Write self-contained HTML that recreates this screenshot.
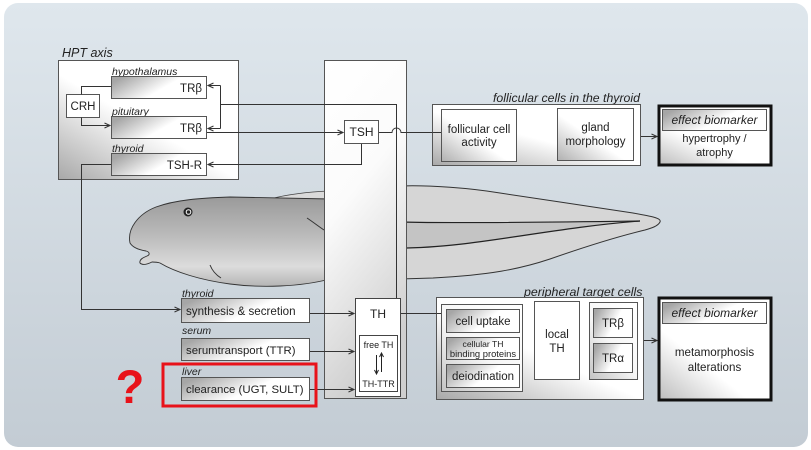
<!DOCTYPE html>
<html><head><meta charset="utf-8"><style>
html,body{margin:0;padding:0;background:#fff;}
svg{display:block;}
text{font-family:"Liberation Sans",Arial,sans-serif;fill:#222;}
.it{font-style:italic;}
</style></head><body>
<svg width="811" height="450" viewBox="0 0 811 450" xmlns="http://www.w3.org/2000/svg">
<defs>
<linearGradient id="bg" x1="0" y1="0" x2="0" y2="1"><stop offset="0" stop-color="#dfe7ed"/><stop offset="1" stop-color="#c3ccd4"/></linearGradient>
<linearGradient id="gBox" x1="0" y1="1" x2="0.8" y2="0.1"><stop offset="0" stop-color="#a8a8a8"/><stop offset="0.55" stop-color="#ffffff"/><stop offset="1" stop-color="#ffffff"/></linearGradient>
<linearGradient id="gBox2" x1="0" y1="1" x2="0.8" y2="0"><stop offset="0" stop-color="#c4c4c4"/><stop offset="0.5" stop-color="#f6f6f6"/><stop offset="1" stop-color="#ffffff"/></linearGradient>
<linearGradient id="gH" x1="0" y1="0.3" x2="1" y2="0.7"><stop offset="0" stop-color="#a6a6a6"/><stop offset="0.55" stop-color="#ffffff"/><stop offset="1" stop-color="#ffffff"/></linearGradient>
<linearGradient id="gF" x1="0" y1="1" x2="1" y2="0"><stop offset="0" stop-color="#b0b0b0"/><stop offset="0.45" stop-color="#ffffff"/><stop offset="1" stop-color="#ffffff"/></linearGradient>
<linearGradient id="gE" x1="0" y1="1" x2="0.7" y2="0.2"><stop offset="0" stop-color="#bdbdbd"/><stop offset="0.5" stop-color="#ffffff"/><stop offset="1" stop-color="#ffffff"/></linearGradient>
<linearGradient id="gCol" x1="0" y1="0" x2="0.3" y2="1"><stop offset="0" stop-color="#ffffff"/><stop offset="0.45" stop-color="#fbfbfb"/><stop offset="1" stop-color="#cfcfcf"/></linearGradient>
<linearGradient id="gBody" x1="0" y1="0" x2="0" y2="1"><stop offset="0" stop-color="#9a9a9a"/><stop offset="0.45" stop-color="#bcbcbc"/><stop offset="0.78" stop-color="#dcdcdc"/><stop offset="1" stop-color="#b4b4b4"/></linearGradient>
<marker id="a" markerWidth="8" markerHeight="8" refX="7" refY="4" orient="auto" markerUnits="userSpaceOnUse"><path d="M1.5,1.5 L7,4 L1.5,6.5" fill="none" stroke="#333" stroke-width="1"/></marker>
<marker id="s" markerWidth="6" markerHeight="6" refX="5" refY="3" orient="auto" markerUnits="userSpaceOnUse"><path d="M1,1 L5,3 L1,5" fill="none" stroke="#222" stroke-width="1"/></marker>
</defs>
<rect width="811" height="450" fill="#fff"/>
<rect x="4" y="3" width="804" height="444" rx="14" fill="url(#bg)"/>

<!-- tadpole -->
<path d="M270,199 C285,195 305,192 330,191 L330,206 C310,203 290,200 270,199 Z" fill="#dadada" stroke="#444" stroke-width="0.7"/>
<path d="M130,243 C127,229 138,214 156,207 C175,200 200,198 230,197 L330,199 L330,279 C300,287 260,288 230,284 C200,280 175,272 160,263 C157,262 155,262 152,262 C148,264 143,266 140,263 C139,260 142,258 147,256 C150,255 150,252 146,251 C140,250 133,248 130,243 Z" fill="url(#gBody)" stroke="#333" stroke-width="0.9"/>
<path d="M307,218 C313,222 318,226 324,230" fill="none" stroke="#333" stroke-width="1"/>
<path d="M210,265 C212,270 216,275 221,278" fill="none" stroke="#333" stroke-width="1"/>
<circle cx="188" cy="212" r="4.5" fill="#222"/>
<circle cx="188.5" cy="212" r="2.3" fill="none" stroke="#fff" stroke-width="1"/>
<path d="M400,186 C430,185 470,188 500,193 C540,199 600,208 633,213 C650,216 662,218 660,222 C658,226 652,228 645,230 C620,236 590,245 550,259 C520,269 490,275 433,278 L400,279 Z" fill="#d6d6d6" stroke="#333" stroke-width="1"/>
<path d="M400,222 C440,223 500,223 640,221 C600,224 560,230 520,236 C480,242 440,248 400,248 Z" fill="#c4c4c4"/>
<path d="M400,222 C440,223 500,223 640,221" fill="none" stroke="#222" stroke-width="1.2"/>
<path d="M400,248 C440,248 480,242 520,236 C560,230 600,224 640,221" fill="none" stroke="#222" stroke-width="1.2"/>

<!-- central column -->
<rect x="324.5" y="60.5" width="82" height="338" fill="url(#gCol)" stroke="#555"/>

<!-- HPT axis -->
<text x="62" y="57" class="it" font-size="12.5">HPT axis</text>
<rect x="58.5" y="60.5" width="180" height="119" fill="url(#gBox)" stroke="#555"/>
<text x="112" y="75" class="it" font-size="10.5">hypothalamus</text>
<rect x="111.5" y="76.5" width="95" height="22" fill="url(#gH)" stroke="#555"/>
<text x="202" y="92" text-anchor="end" font-size="11.5">TRβ</text>
<rect x="66.5" y="94.5" width="33" height="23" fill="#fff" stroke="#555"/>
<text x="83" y="110" text-anchor="middle" font-size="11.5">CRH</text>
<text x="112" y="115" class="it" font-size="10.5">pituitary</text>
<rect x="111.5" y="116.5" width="95" height="22" fill="url(#gH)" stroke="#555"/>
<text x="202" y="132" text-anchor="end" font-size="11.5">TRβ</text>
<text x="112" y="152" class="it" font-size="10.5">thyroid</text>
<rect x="111.5" y="153.5" width="95" height="22" fill="url(#gH)" stroke="#555"/>
<text x="202" y="169" text-anchor="end" font-size="11.5">TSH-R</text>

<g fill="none" stroke="#333" stroke-width="1">
<path d="M81.5,94.5 V86.5 H111"/>
<path d="M81.5,117.5 V125.5 H110" marker-end="url(#a)"/>
<path d="M220.5,104.5 H396.5 V298"/>
<path d="M220.5,85.5 V128.5"/>
<path d="M220.5,85.5 H208" marker-end="url(#a)"/>
<path d="M220.5,128.5 H208" marker-end="url(#a)"/>
<path d="M207,132.5 H343" marker-end="url(#a)"/>
<path d="M361.5,143 V164.5 H208" marker-end="url(#a)"/>
<path d="M378,132.5 H392 A4.5,4.5 0 0 1 401,132.5 H441"/>
<path d="M111,164.5 H81.5 V309.5 H180" marker-end="url(#a)"/>
<path d="M309,313.5 H354" marker-end="url(#a)"/>
<path d="M310,351.5 H354" marker-end="url(#a)"/>
<path d="M309,389.5 H354" marker-end="url(#a)"/>
<path d="M401,313.5 H441"/>
<path d="M516,132.5 H556" marker-end="url(#a)"/>
<path d="M641,136.5 H657" marker-end="url(#a)"/>
<path d="M522,313.5 H533" marker-end="url(#a)"/>
<path d="M579,341.5 H589" marker-end="url(#a)"/>
<path d="M644,340.5 H657" marker-end="url(#a)"/>
</g>
<rect x="344.5" y="120.5" width="34" height="23" fill="#fff" stroke="#555"/>
<text x="361.5" y="136" text-anchor="middle" font-size="12">TSH</text>

<!-- follicular -->
<text x="493" y="102" class="it" font-size="12.3">follicular cells in the thyroid</text>
<rect x="432.5" y="104.5" width="208" height="61" fill="url(#gBox)" stroke="#555"/>
<path d="M432.5,132.5 H441" stroke="#333"/>
<rect x="441.5" y="109.5" width="75" height="52" fill="url(#gF)" stroke="#555"/>
<text x="479" y="133" text-anchor="middle" font-size="11.5">follicular cell</text>
<text x="479" y="146" text-anchor="middle" font-size="11.5">activity</text>
<rect x="557.5" y="108.5" width="76" height="52" fill="url(#gF)" stroke="#555"/>
<text x="595.5" y="131" text-anchor="middle" font-size="11.5">gland</text>
<text x="595.5" y="145" text-anchor="middle" font-size="11.5">morphology</text>
<rect x="659" y="106" width="112" height="59" fill="url(#gE)" stroke="#111" stroke-width="3"/>
<rect x="662.5" y="109.5" width="104" height="21" fill="url(#gH)" stroke="#555"/>
<text x="714.5" y="124" text-anchor="middle" class="it" font-size="12">effect biomarker</text>
<text x="714.5" y="142" text-anchor="middle" font-size="11">hypertrophy /</text>
<text x="714.5" y="156" text-anchor="middle" font-size="11">atrophy</text>

<!-- TH box -->
<rect x="355.5" y="298.5" width="45" height="98" fill="#fff" stroke="#444"/>
<text x="378" y="318" text-anchor="middle" font-size="12">TH</text>
<rect x="359.5" y="335.5" width="38" height="56" fill="#fff" stroke="#444"/>
<text x="378.5" y="348" text-anchor="middle" font-size="9">free TH</text>
<text x="378.5" y="387" text-anchor="middle" font-size="9">TH-TTR</text>
<path d="M376.5,355 V374" stroke="#222" fill="none" marker-end="url(#s)"/>
<path d="M381.5,372 V353" stroke="#222" fill="none" marker-end="url(#s)"/>

<!-- lower-left -->
<text x="182" y="297" class="it" font-size="10.5">thyroid</text>
<rect x="181.5" y="298.5" width="128" height="24" fill="url(#gH)" stroke="#555"/>
<text x="186" y="315" font-size="11.6">synthesis &amp; secretion</text>
<text x="182" y="334" class="it" font-size="10.5">serum</text>
<rect x="181.5" y="338.5" width="128" height="22" fill="url(#gH)" stroke="#555"/>
<text x="186" y="354" font-size="11.4">serumtransport (TTR)</text>
<rect x="163" y="364" width="153" height="42" fill="none" stroke="#e8121a" stroke-width="3"/>
<text x="182" y="375" class="it" font-size="10.5">liver</text>
<rect x="181.5" y="377.5" width="128" height="23" fill="url(#gH)" stroke="#555"/>
<text x="186" y="393" font-size="11.4">clearance (UGT, SULT)</text>
<text x="130" y="403" text-anchor="middle" font-size="47" font-weight="bold" style="fill:#e8121a">?</text>

<!-- peripheral -->
<text x="524" y="296" class="it" font-size="12.4">peripheral target cells</text>
<rect x="436.5" y="297.5" width="207" height="102" fill="url(#gBox)" stroke="#555"/>
<path d="M436.5,313.5 H441" stroke="#333"/>
<rect x="441.5" y="304.5" width="81" height="87" fill="url(#gBox2)" stroke="#555"/>
<rect x="446.5" y="309.5" width="73" height="23" fill="url(#gH)" stroke="#555"/>
<text x="483" y="325" text-anchor="middle" font-size="11.5">cell uptake</text>
<rect x="446.5" y="337.5" width="73" height="22" fill="url(#gH)" stroke="#555"/>
<text x="483" y="347" text-anchor="middle" font-size="8.6">cellular TH</text>
<text x="483" y="357" text-anchor="middle" font-size="9.4">binding proteins</text>
<rect x="446.5" y="364.5" width="73" height="23" fill="url(#gH)" stroke="#555"/>
<text x="483" y="380" text-anchor="middle" font-size="11.5">deiodination</text>
<rect x="534.5" y="301.5" width="45" height="78" fill="#fff" stroke="#555"/>
<text x="557" y="338" text-anchor="middle" font-size="11.5">local</text>
<text x="557" y="352" text-anchor="middle" font-size="11.5">TH</text>
<rect x="589.5" y="302.5" width="48" height="77" fill="url(#gBox2)" stroke="#555"/>
<rect x="593.5" y="308.5" width="39" height="29" fill="url(#gH)" stroke="#555"/>
<text x="613" y="327" text-anchor="middle" font-size="11.5">TRβ</text>
<rect x="593.5" y="343.5" width="39" height="29" fill="url(#gH)" stroke="#555"/>
<text x="613" y="362" text-anchor="middle" font-size="11.5">TRα</text>
<rect x="659" y="298" width="112" height="102" fill="url(#gE)" stroke="#111" stroke-width="3"/>
<rect x="662.5" y="302.5" width="104" height="21" fill="url(#gH)" stroke="#555"/>
<text x="714.5" y="317" text-anchor="middle" class="it" font-size="12">effect biomarker</text>
<text x="714.5" y="356" text-anchor="middle" font-size="11.6">metamorphosis</text>
<text x="714.5" y="371" text-anchor="middle" font-size="11.6">alterations</text>
</svg>
</body></html>
